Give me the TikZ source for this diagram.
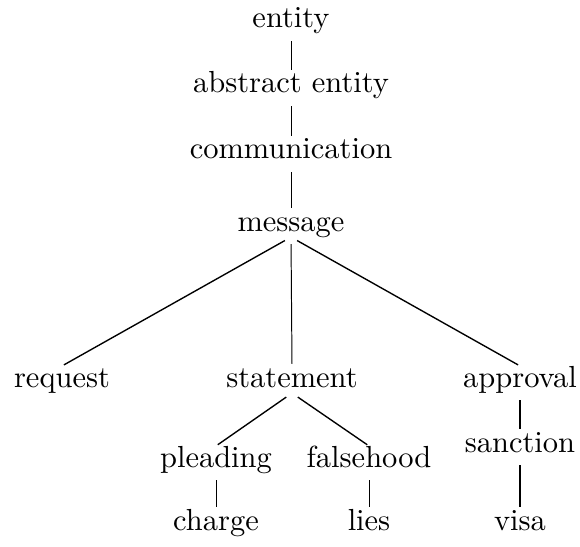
\documentclass[tikz,border=0pt]{standalone}
\usepackage{fontspec}
\begin{document}
\begin{tikzpicture}[x=0.328pt, y=-0.328pt,
  term/.style={anchor=base, inner sep=0pt, outer sep=0pt,
    text height=6.9pt, text depth=2pt, font=\fontsize{10}{12}\selectfont},
  edge/.style={line width=0.45pt, shorten <=2.3pt, shorten >=0.7pt},
  thinedge/.style={edge, line width=0.32pt}]
  \useasboundingbox (0,0) rectangle (580,546);

  % chain from the root
  \node[term] (entity)   at (291,28)  {entity};
  \node[term] (abstract) at (291,93)  {abstract entity};
  \node[term] (comm)     at (291,159) {communication};
  \node[term] (message)  at (291,231) {message};

  % second level
  \node[term] (request)   at (62,387)  {request};
  \node[term] (statement) at (292,387) {statement};
  \node[term] (approval)  at (520,387) {approval};

  % third level
  \node[term] (pleading)  at (216,467) {pleading};
  \node[term] (falsehood) at (369,467) {falsehood};
  \node[term] (sanction)  at (520,452) {sanction};

  % leaves
  \node[term] (charge) at (216,530) {charge};
  \node[term] (lies)   at (369,530) {lies};
  \node[term] (visa)   at (520,530) {visa};

  \draw[thinedge] (entity.south) -- (abstract.north);
  \draw[thinedge] (abstract.south) -- (comm.north);
  \draw[thinedge] (comm.south) -- (message.north);
  \draw[thinedge] (message.south) -- (statement.north);
  \draw[edge] (message.south) -- (request.north);
  \draw[edge] (message.south) -- (approval.north);
  \draw[edge] (statement.south) -- (pleading.north);
  \draw[edge] (statement.south) -- (falsehood.north);
  \draw[thinedge] (pleading.south) -- (charge.north);
  \draw[thinedge] (falsehood.south) -- (lies.north);
  \draw[edge] (approval.south) -- (sanction.north);
  \draw[edge] (sanction.south) -- (visa.north);
\end{tikzpicture}
\end{document}
